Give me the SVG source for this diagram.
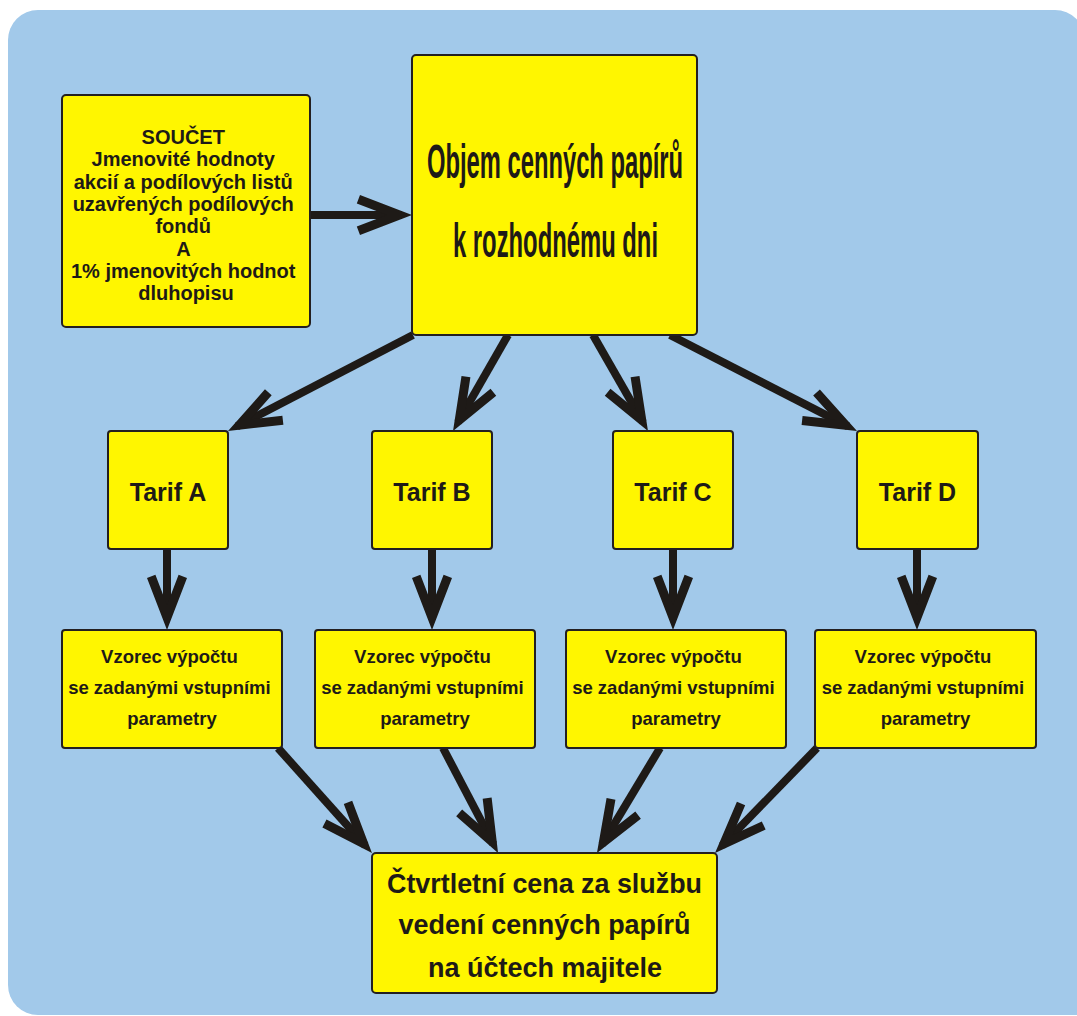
<svg xmlns="http://www.w3.org/2000/svg" width="1077" height="1016" viewBox="0 0 1077 1016">
  <style>
    .box { fill: #FFF600; stroke: #231F20; stroke-width: 2; }
    .t { font-family: "Liberation Sans", Arial, sans-serif; font-weight: bold; fill: #1E1A17; text-anchor: middle; }
    .narrow { font-family: "Liberation Sans Narrow", "Liberation Sans", Arial, sans-serif; font-weight: bold; fill: #1E1A17; text-anchor: middle; }
    .con { fill: none; stroke: #1E1A17; stroke-width: 8; marker-end: url(#ah); }
  </style>
  <defs>
    <marker id="ah" markerUnits="userSpaceOnUse" orient="auto" refX="0" refY="0" markerWidth="80" markerHeight="60" viewBox="-60 -30 80 60" overflow="visible">
      <polygon points="10,0 -42,-20 -45.2,-11.6 -15.1,0 -45.2,11.6 -42,20" fill="#1E1A17"/>
    </marker>
  </defs>

  <path id="background" d="M8,40 A30,30 0 0 1 38,10 L1055,10 A30,30 0 0 1 1085,40 L1085,1015 L38,1015 A30,30 0 0 1 8,985 Z" fill="#A2C9EA"/>

  <g id="connectors">
    <path class="con" d="M310,215 L402,215"/>
    <path class="con" d="M413,335 L236.9,426.4"/>
    <path class="con" d="M508,335 L458,422.3"/>
    <path class="con" d="M593,335 L643,422.3"/>
    <path class="con" d="M670,335 L848.1,426.4"/>
    <path class="con" d="M167,549 L167,620"/>
    <path class="con" d="M432,549 L432,620"/>
    <path class="con" d="M673,549 L673,620"/>
    <path class="con" d="M917,549 L917,620"/>
    <path class="con" d="M278,748 L365.3,845.5"/>
    <path class="con" d="M443,748 L493.4,844.1"/>
    <path class="con" d="M660,748 L602.1,844.4"/>
    <path class="con" d="M817,748 L722,845.8"/>
  </g>

  <g id="soucet">
    <rect class="box" x="62" y="95" width="248" height="232" rx="4"/>
    <text class="t" font-size="20">
      <tspan x="186" y="144">SOUČET</tspan>
      <tspan x="186" y="166.3">Jmenovité hodnoty</tspan>
      <tspan x="186" y="188.6">akcií a podílových listů</tspan>
      <tspan x="186" y="210.9">uzavřených podílových</tspan>
      <tspan x="186" y="233.2">fondů</tspan>
      <tspan x="186" y="255.5">A</tspan>
      <tspan x="186" y="277.8">1% jmenovitých hodnot</tspan>
      <tspan x="186" y="300.1">dluhopisu</tspan>
    </text>
  </g>

  <g id="objem">
    <rect class="box" x="412" y="55" width="285" height="280" rx="4"/>
    <text class="narrow" font-size="48" x="555" y="178" textLength="256" lengthAdjust="spacingAndGlyphs">Objem cenných papírů</text>
    <text class="narrow" font-size="48" x="555.5" y="257" textLength="205" lengthAdjust="spacingAndGlyphs">k rozhodnému dni</text>
  </g>

  <g id="tarif-a">
    <rect class="box" x="108" y="431" width="120" height="118" rx="3"/>
    <text class="t" font-size="25" x="168" y="501">Tarif A</text>
  </g>
  <g id="tarif-b">
    <rect class="box" x="372" y="431" width="120" height="118" rx="3"/>
    <text class="t" font-size="25" x="432" y="501">Tarif B</text>
  </g>
  <g id="tarif-c">
    <rect class="box" x="613" y="431" width="120" height="118" rx="3"/>
    <text class="t" font-size="25" x="673" y="501">Tarif C</text>
  </g>
  <g id="tarif-d">
    <rect class="box" x="857" y="431" width="121" height="118" rx="3"/>
    <text class="t" font-size="25" x="917.5" y="501">Tarif D</text>
  </g>

  <g id="vzorec-a">
    <rect class="box" x="62" y="630" width="220" height="118" rx="3"/>
    <text class="t" font-size="18.5">
      <tspan x="172" y="663">Vzorec výpočtu</tspan>
      <tspan x="172" y="694">se zadanými vstupními</tspan>
      <tspan x="172" y="725">parametry</tspan>
    </text>
  </g>
  <g id="vzorec-b">
    <rect class="box" x="315" y="630" width="220" height="118" rx="3"/>
    <text class="t" font-size="18.5">
      <tspan x="425" y="663">Vzorec výpočtu</tspan>
      <tspan x="425" y="694">se zadanými vstupními</tspan>
      <tspan x="425" y="725">parametry</tspan>
    </text>
  </g>
  <g id="vzorec-c">
    <rect class="box" x="566" y="630" width="220" height="118" rx="3"/>
    <text class="t" font-size="18.5">
      <tspan x="676" y="663">Vzorec výpočtu</tspan>
      <tspan x="676" y="694">se zadanými vstupními</tspan>
      <tspan x="676" y="725">parametry</tspan>
    </text>
  </g>
  <g id="vzorec-d">
    <rect class="box" x="815" y="630" width="221" height="118" rx="3"/>
    <text class="t" font-size="18.5">
      <tspan x="925.5" y="663">Vzorec výpočtu</tspan>
      <tspan x="925.5" y="694">se zadanými vstupními</tspan>
      <tspan x="925.5" y="725">parametry</tspan>
    </text>
  </g>

  <g id="cena">
    <rect class="box" x="372" y="853" width="345" height="140" rx="4"/>
    <text class="t" font-size="28" x="544.5" y="893" textLength="315" lengthAdjust="spacingAndGlyphs">Čtvrtletní cena za službu</text>
    <text class="t" font-size="28" x="544.5" y="934" textLength="292" lengthAdjust="spacingAndGlyphs">vedení cenných papírů</text>
    <text class="t" font-size="28" x="545" y="977" textLength="234" lengthAdjust="spacingAndGlyphs">na účtech majitele</text>
  </g>
</svg>
